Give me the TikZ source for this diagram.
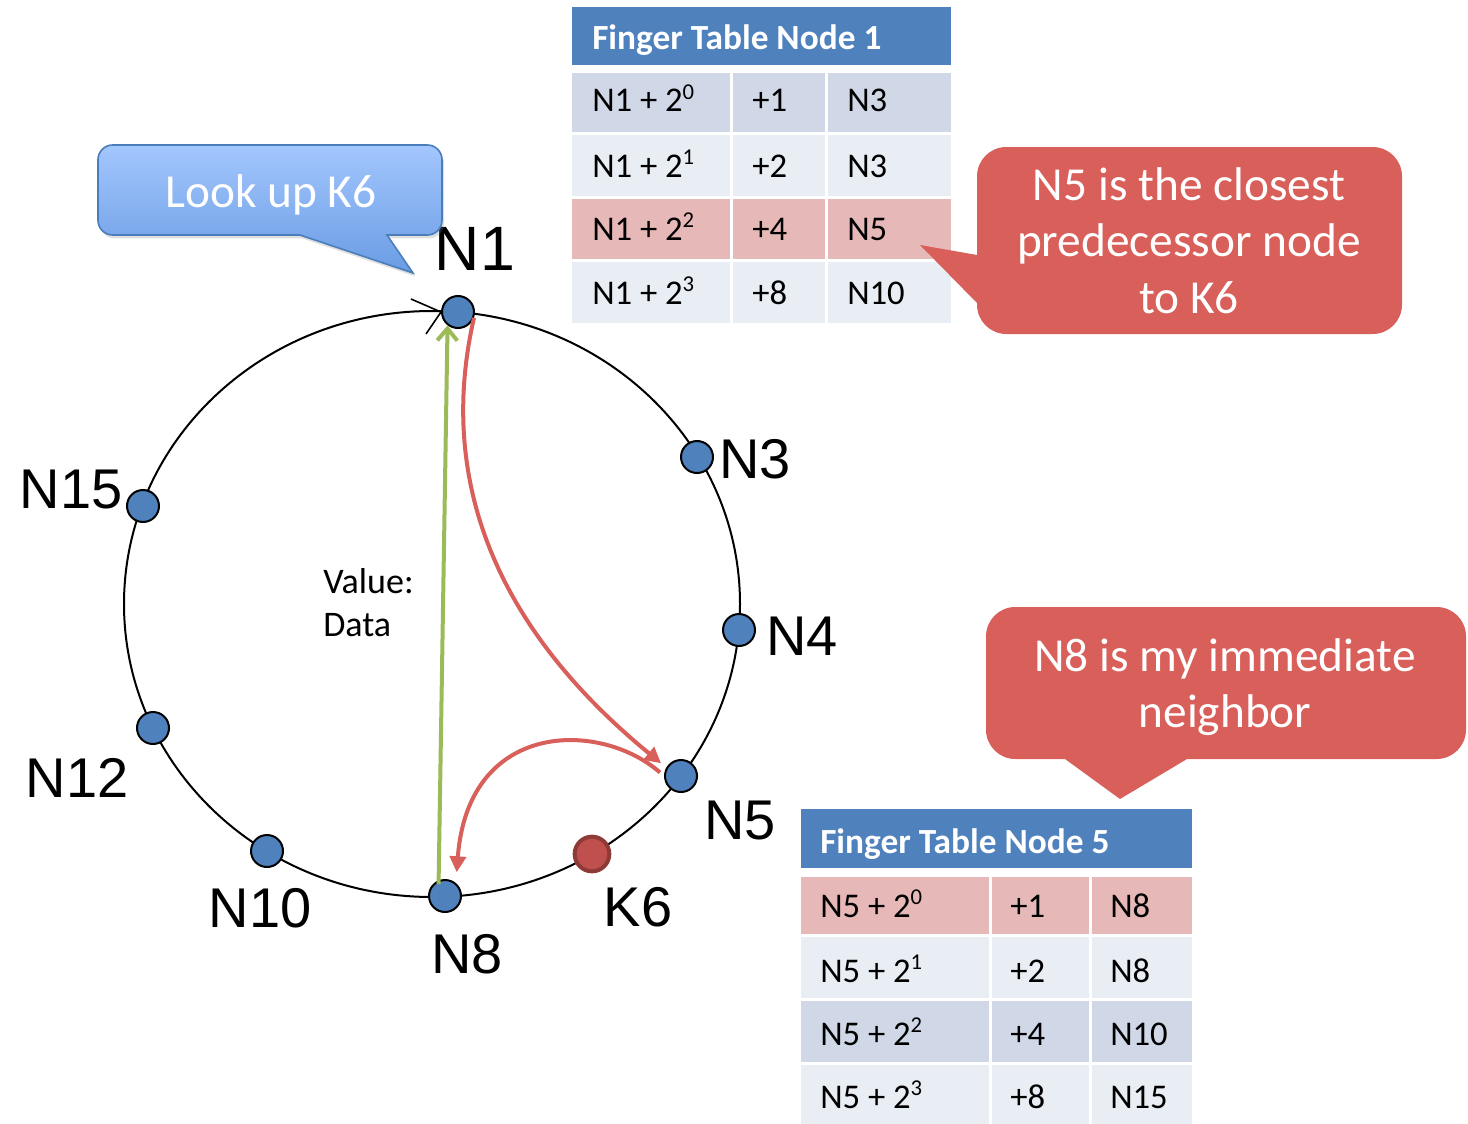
\documentclass[tikz,border=0pt]{standalone}
\usepackage{fontspec}
\setmainfont{Carlito}
\newfontfamily\ringfont{Liberation Sans}
\usetikzlibrary{arrows.meta,shadows}

\definecolor{nodeblue}{HTML}{4F81BD}
\definecolor{headblue}{HTML}{4F81BD}
\definecolor{rowdark}{HTML}{D0D8E8}
\definecolor{rowlight}{HTML}{E9EDF4}
\definecolor{rowpink}{HTML}{E6B9B8}
\definecolor{accentred}{HTML}{D9605A}
\definecolor{keyred}{HTML}{C0504D}
\definecolor{keyedge}{HTML}{8E3A37}
\definecolor{replygreen}{HTML}{9BBB59}
\definecolor{calloutedge}{HTML}{4A7EBB}
\definecolor{callouttop}{HTML}{A3C6FD}
\definecolor{calloutbottom}{HTML}{6A9CE4}

% power of two as it appears in the finger tables
\newcommand{\pw}[1]{2{\fontsize{17}{17}\selectfont\raisebox{9.5pt}{#1}}}

\begin{document}
\begin{tikzpicture}[x=0.75pt,y=-0.75pt,
  peer/.style={circle,minimum size=24pt,inner sep=0pt,fill=nodeblue,draw=black,line width=1.5pt},
  keydot/.style={circle,minimum size=26pt,inner sep=0pt,fill=keyred,draw=keyedge,line width=3pt},
  peerlabel/.style={anchor=base,inner sep=0pt,font=\ringfont\fontsize{42}{50}\selectfont},
  celltext/.style={anchor=base west,inner sep=0pt,font=\fontsize{26}{31}\selectfont},
  headtext/.style={anchor=base west,inner sep=0pt,text=white,font=\bfseries\fontsize{26.5}{31}\selectfont},
  bubbletext/.style={anchor=base,inner sep=0pt,text=white,font=\fontsize{35.5}{42}\selectfont},
  plaintext/.style={anchor=base west,inner sep=0pt,font=\fontsize{27}{32}\selectfont},
  hop/.style={draw=accentred,line width=3pt,-{Triangle[length=12pt,width=12pt]}},
  reply/.style={draw=replygreen,line width=3pt,-{Straight Barb[length=9pt,width=15pt]}},
]
\fill[white] (0,0) rectangle (1468,1124);
\useasboundingbox (0,0) rectangle (1468,1124);

% the identifier ring
\draw[line width=1.5pt] (432,604) ellipse [x radius=308, y radius=293];

% peers and the key on the ring
\node[peer] (N1) at (458,312) {};
\node[peer] (N3) at (697,457) {};
\node[peer] (N4) at (739,630) {};
\node[peer] (N5) at (681,776) {};
\node[keydot] (K6) at (592,854) {};
\node[peer] (N8) at (445,896) {};
\node[peer] (N10) at (267,851) {};
\node[peer] (N12) at (153,728) {};
\node[peer] (N15) at (143,506) {};

% direction mark of the ring
\draw[line width=1.2pt] (N1.west) ++(-30,-13) -- (N1.west) -- ++(-15,22);

% peer labels
\node[peerlabel,font=\ringfont\fontsize{47}{54}\selectfont] (lN1) at (475,270) {N1};
\node[peerlabel] (lN3) at (755,478) {N3};
\node[peerlabel] (lN4) at (802,655) {N4};
\node[peerlabel] (lN5) at (740,839) {N5};
\node[peerlabel] (lK6) at (638,926) {K6};
\node[peerlabel] (lN8) at (467,973) {N8};
\node[peerlabel] (lN10) at (260,927) {N10};
\node[peerlabel] (lN12) at (77,797) {N12};
\node[peerlabel] (lN15) at (71,508) {N15};

% stored value
\node[plaintext] (valA) at (323,593) {Value:};
\node[plaintext] (valB) at (323,636) {Data};

% lookup hops and the reply
\draw[reply, shorten <=-3pt] (N8.112) -- (N1.-128);
\draw[hop, shorten >=5pt] (N1.-20) .. controls (446,440) and (462,600) .. (N5.150);
\draw[hop, shorten <=4pt, shorten >=8pt] (N5.180) .. controls (600,720) and (468,720) .. (N8.50);

% finger table of node 1
\fill[headblue] (572,7) rectangle (951,65);
\node[headtext] (fhA) at (592,50) {Finger Table Node 1};
\foreach \ya/\yb/\col in {73/132/rowdark, 135/196/rowlight, 199/259/rowpink, 262/323/rowlight} {
  \fill[\col] (572,\ya) rectangle (730,\yb);
  \fill[\col] (733,\ya) rectangle (825,\yb);
  \fill[\col] (828,\ya) rectangle (951,\yb);
}
\foreach \y/\e/\d/\s [count=\r] in {112/0/+1/N3, 177/1/+2/N3, 240/2/+4/N5, 304/3/+8/N10} {
  \node[celltext] (fa-\r-1) at (592,\y) {N1 + \pw{\e}};
  \node[celltext] (fa-\r-2) at (752,\y) {\d};
  \node[celltext] (fa-\r-3) at (847,\y) {\s};
}

% finger table of node 5
\fill[headblue] (801,809) rectangle (1192,868);
\node[headtext] (fhB) at (820,853) {Finger Table Node 5};
\foreach \ya/\yb/\col in {877/934/rowpink, 937/998/rowlight, 1001/1062/rowdark, 1065/1124/rowlight} {
  \fill[\col] (801,\ya) rectangle (989,\yb);
  \fill[\col] (992,\ya) rectangle (1089,\yb);
  \fill[\col] (1092,\ya) rectangle (1192,\yb);
}
\foreach \y/\e/\d/\s [count=\r] in {917/0/+1/N8, 982/1/+2/N8, 1045/2/+4/N10, 1108/3/+8/N15} {
  \node[celltext] (fb-\r-1) at (820,\y) {N5 + \pw{\e}};
  \node[celltext] (fb-\r-2) at (1010,\y) {\d};
  \node[celltext] (fb-\r-3) at (1110,\y) {\s};
}

% callouts
\path[draw=calloutedge, line width=1.2pt, top color=callouttop, bottom color=calloutbottom,
      drop shadow={opacity=0.25,shadow xshift=1.5pt,shadow yshift=-2.5pt}]
  (98,190) [rounded corners=11pt] -- (98,145) -- (442,145) -- (442,235)
  [sharp corners] -- (387,235) -- (413,273) -- (300,235)
  [rounded corners=11pt] -- (98,235) -- cycle;
\node[bubbletext] (lookup) at (271,207) {Look up K6};

\path[fill=accentred]
  (977,200) [rounded corners=22pt] -- (977,147) -- (1402,147) -- (1402,334) -- (977,334)
  [sharp corners] -- (977,303) -- (920,245) -- (977,255) -- cycle;
\node[bubbletext] (predA) at (1189,200) {N5 is the closest};
\node[bubbletext] (predB) at (1189,256) {predecessor node};
\node[bubbletext] (predC) at (1189,313) {to K6};

\path[fill=accentred]
  (986,680) [rounded corners=22pt] -- (986,607) -- (1466,607) -- (1466,759)
  [sharp corners] -- (1187,759) -- (1120,799) -- (1065,759)
  [rounded corners=22pt] -- (986,759) -- cycle;
\node[bubbletext] (succA) at (1225,671) {N8 is my immediate};
\node[bubbletext] (succB) at (1225,727) {neighbor};
\end{tikzpicture}
\end{document}
